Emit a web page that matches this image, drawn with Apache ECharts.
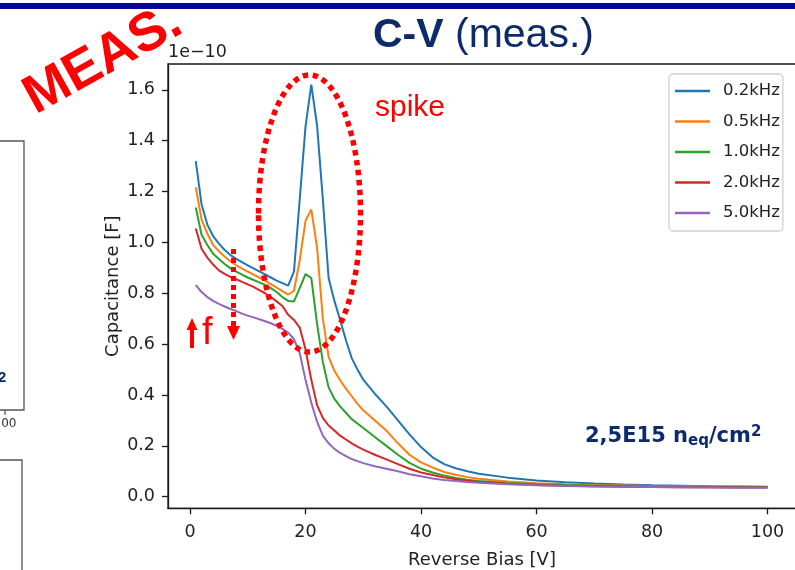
<!DOCTYPE html>
<html>
<head>
<meta charset="utf-8">
<script src="https://cdn.jsdelivr.net/npm/echarts@6/dist/echarts.min.js"></script>
<style>html,body{margin:0;padding:0;background:#fff;}#c{width:795px;height:570px;}</style>
</head>
<body>
<div id="c"></div>
<script>
// Reverse bias voltages [V]
const voltages = [1,2,3,4,5,6,7,8,9,10,11,12,13,14,15,16,17,18,19,20,21,22,23,24,25,26,27,28,29,30,
  32,34,36,38,40,42,44,46,48,50,55,60,65,70,75,80,85,90,95,100];
// Capacitance in units of 1e-10 F
const c02 = [1.32,1.15,1.07,1.025,0.995,0.97,0.95,0.935,0.922,0.91,0.898,0.886,0.874,0.862,0.85,0.84,0.83,0.885,1.17,1.455,1.62,1.46,1.17,0.86,0.77,0.695,0.615,0.545,0.50,0.46,
  0.405,0.355,0.30,0.245,0.195,0.155,0.128,0.112,0.10,0.09,0.075,0.064,0.057,0.052,0.048,0.045,0.043,0.041,0.040,0.039];
const c05 = [1.217,1.09,1.035,0.99,0.965,0.945,0.925,0.91,0.897,0.885,0.873,0.862,0.85,0.836,0.822,0.808,0.795,0.81,0.93,1.085,1.13,0.98,0.70,0.55,0.495,0.458,0.425,0.395,0.365,0.34,
  0.30,0.26,0.21,0.165,0.135,0.115,0.097,0.086,0.077,0.071,0.06,0.053,0.049,0.046,0.044,0.042,0.041,0.040,0.039,0.038];
const c10 = [1.137,1.03,0.99,0.955,0.935,0.915,0.898,0.885,0.873,0.862,0.852,0.843,0.833,0.82,0.805,0.785,0.77,0.768,0.82,0.875,0.86,0.68,0.53,0.43,0.385,0.355,0.33,0.305,0.288,0.27,
  0.235,0.20,0.165,0.133,0.11,0.095,0.083,0.074,0.067,0.062,0.054,0.049,0.046,0.044,0.042,0.041,0.040,0.039,0.038,0.038];
const c20 = [1.055,0.975,0.94,0.913,0.89,0.876,0.864,0.855,0.845,0.835,0.825,0.812,0.80,0.785,0.768,0.75,0.715,0.695,0.665,0.58,0.46,0.36,0.31,0.28,0.26,0.24,0.225,0.21,0.197,0.185,
  0.165,0.147,0.128,0.11,0.095,0.085,0.076,0.069,0.063,0.058,0.051,0.046,0.043,0.041,0.039,0.038,0.037,0.037,0.036,0.036];
const c50 = [0.832,0.805,0.785,0.77,0.758,0.748,0.738,0.73,0.72,0.712,0.705,0.698,0.69,0.682,0.672,0.66,0.645,0.62,0.565,0.46,0.37,0.295,0.24,0.21,0.188,0.172,0.16,0.148,0.14,0.132,
  0.12,0.11,0.10,0.088,0.08,0.072,0.066,0.062,0.058,0.055,0.049,0.045,0.042,0.040,0.039,0.038,0.037,0.036,0.035,0.035];
const seriesNames = ['0.2kHz','0.5kHz','1.0kHz','2.0kHz','5.0kHz'];
const seriesValues = [c02,c05,c10,c20,c50];
const seriesColors = ['#1f77b4','#ff7f0e','#2ca02c','#d62728','#9467bd'];
const xTicks = [0,20,40,60,80,100];
const yTicks = [0,0.2,0.4,0.6,0.8,1.0,1.2,1.4,1.6];

const MPL = 'DejaVu Sans';
const chart = echarts.init(document.getElementById('c'), null, {renderer:'canvas'});
const series = seriesNames.map((n,i)=>({
  name:n, type:'line', symbol:'none', showSymbol:false,
  data: voltages.map((v,j)=>[v, seriesValues[i][j]]),
  lineStyle:{color:seriesColors[i], width:2}, itemStyle:{color:seriesColors[i]}, z:2+i
}));
const red = '#ff0000', navy = '#0d2b6b';
chart.setOption({
  animation:false,
  backgroundColor:'#ffffff',
  grid:{left:168, top:64, width:628, height:444.3, outerBoundsMode:'none', containLabel:false,
    show:true, borderColor:'#1a1a1a', borderWidth:1.3, backgroundColor:'transparent'},
  xAxis:{type:'value', min:-3.81, max:104.93,
    name:'Reverse Bias [V]', nameLocation:'middle', nameGap:43, nameMoveOverlap:false,
    nameTextStyle:{fontFamily:MPL, fontSize:18, color:'#222'},
    axisLine:{show:true, onZero:false, lineStyle:{color:'#1a1a1a', width:1.3}},
    axisTick:{show:true, inside:false, length:6, customValues:xTicks, lineStyle:{color:'#1a1a1a', width:1.3}},
    axisLabel:{customValues:xTicks, margin:15, fontFamily:MPL, fontSize:17.5, color:'#222'},
    splitLine:{show:false}},
  yAxis:{type:'value', min:-0.0456, max:1.7015,
    name:'Capacitance [F]', nameLocation:'middle', nameGap:46, nameMoveOverlap:false,
    nameTextStyle:{fontFamily:MPL, fontSize:18, color:'#222'},
    axisLine:{show:true, onZero:false, lineStyle:{color:'#1a1a1a', width:1.3}},
    axisTick:{show:true, inside:false, length:6, customValues:yTicks, lineStyle:{color:'#1a1a1a', width:1.3}},
    axisLabel:{customValues:yTicks, margin:13, fontFamily:MPL, fontSize:17.5, color:'#222', formatter:v=>v.toFixed(1)},
    splitLine:{show:false}},
  legend:{orient:'vertical', left:669, top:74, padding:[8,3,9,6],
    icon:'rect', itemWidth:35, itemHeight:2.5, itemGap:12.5,
    backgroundColor:'#ffffff', borderColor:'#d0d0d0', borderWidth:1.3, borderRadius:4,
    textStyle:{fontFamily:MPL, fontSize:16.5, color:'#222', lineHeight:18, padding:[0,0,0,8]},
    data:seriesNames},
  series:series,
  graphic:[
    {type:'rect', shape:{x:0,y:3,width:795,height:6}, style:{fill:'#07079a'}, z:10},
    {type:'text', x:373, y:36, style:{text:'{b|C-V}{n| (meas.)}', verticalAlign:'middle', align:'left',
      rich:{b:{fontFamily:'Liberation Sans', fontWeight:'bold', fontSize:41, fill:navy, color:navy},
            n:{fontFamily:'Liberation Sans', fontSize:41, fill:navy, color:navy}}}, z:10},
    {type:'text', x:168, y:52, style:{text:'1e\u221210', fontFamily:MPL, fontSize:17.5, fill:'#222', verticalAlign:'middle'}, z:10},
    {type:'text', x:103, y:60, rotation:29*Math.PI/180, style:{text:'MEAS.', fontFamily:'Liberation Sans', fontWeight:'bold', fontSize:54, fill:red, align:'center', verticalAlign:'middle'}, z:10},
    {type:'text', x:375, y:108, style:{text:'spike', fontFamily:'Liberation Sans', fontSize:30, fill:red, verticalAlign:'middle'}, z:10},
    {type:'ellipse', shape:{cx:309.5, cy:213.5, rx:51, ry:138.5}, style:{fill:null, stroke:red, lineWidth:5.5, lineDash:[5.5,4.5]}, z:10},
    {type:'line', shape:{x1:233.5,y1:249,x2:233.5,y2:327}, style:{stroke:red, lineWidth:5, lineDash:[5,4]}, z:10},
    {type:'polygon', shape:{points:[[227,326],[240,326],[233.5,340]]}, style:{fill:red}, z:10},
    {type:'line', shape:{x1:192,y1:348,x2:192,y2:327}, style:{stroke:red, lineWidth:4}, z:10},
    {type:'polygon', shape:{points:[[186.5,330],[197.5,330],[192,318]]}, style:{fill:red}, z:10},
    {type:'text', x:202, y:334, style:{text:'f', fontFamily:'Liberation Sans', fontSize:38, fill:red, verticalAlign:'middle'}, z:10},
    {type:'text', x:585, y:437, style:{text:'{a|2,5E15 n}{s|eq}{a|/cm}{p|2}', verticalAlign:'middle',
      rich:{a:{fontFamily:MPL, fontWeight:'bold', fontSize:21, fill:navy, color:navy, lineHeight:24, verticalAlign:'middle'},
            s:{fontFamily:MPL, fontWeight:'bold', fontSize:15, fill:navy, color:navy, lineHeight:24, verticalAlign:'bottom', padding:[12,0,0,0]},
            p:{fontFamily:MPL, fontWeight:'bold', fontSize:15, fill:navy, color:navy, lineHeight:24, verticalAlign:'top', padding:[0,0,10,0]}}}, z:10},
    {type:'rect', shape:{x:-10,y:141,width:34,height:269}, style:{fill:null, stroke:'#555', lineWidth:1.3}, z:10},
    {type:'line', shape:{x1:5,y1:410,x2:5,y2:415}, style:{stroke:'#555', lineWidth:1.2}, z:10},
    {type:'text', x:5, y:424, style:{text:'100', fontFamily:MPL, fontSize:12, fill:'#333', align:'center', verticalAlign:'middle'}, z:10},
    {type:'text', x:-2, y:378, style:{text:'2', fontFamily:'Liberation Sans', fontWeight:'bold', fontSize:15, fill:navy, verticalAlign:'middle'}, z:10},
    {type:'rect', shape:{x:-10,y:460,width:32,height:130}, style:{fill:null, stroke:'#555', lineWidth:1.3}, z:10}
  ]
});
</script>
</body>
</html>
